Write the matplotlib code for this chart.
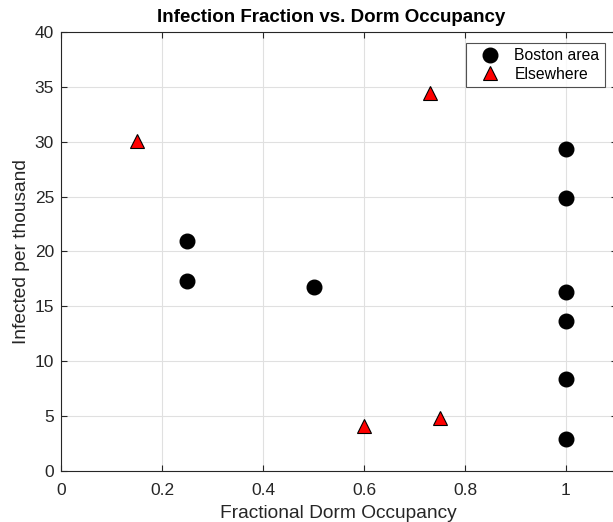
import matplotlib
matplotlib.use("Agg")
import matplotlib.pyplot as plt

plt.rcParams['font.family'] = ['Liberation Sans', 'DejaVu Sans']

# Boston area points
boston_x = [0.25, 0.25, 0.5, 1, 1, 1, 1, 1, 1]
boston_y = [21.0, 17.3, 16.8, 29.3, 24.9, 16.3, 13.7, 8.4, 2.9]

# elsewhere points
else_x = [0.15, 0.73, 0.6, 0.75]
else_y = [30.1, 34.4, 4.1, 4.8]

W, H = 613, 522
fig = plt.figure(figsize=(W / 100, H / 100), dpi=100)
# axes box runs past the right edge of the figure, like the original
ax = fig.add_axes([61 / W, 1 - 471 / H, (616.5 - 61) / W, (471 - 32) / H])

ax.plot(boston_x, boston_y, 'o', color='black', markersize=10.5,
        markeredgecolor='black', linestyle='none', label='Boston area')
ax.plot(else_x, else_y, '^', color='red', markersize=10,
        markeredgecolor='black', markeredgewidth=0.8, linestyle='none', label='Elsewhere')

ax.set_xlim(0, 1.1)
ax.set_ylim(0, 40)
ax.set_xticks([0, 0.2, 0.4, 0.6, 0.8, 1])
ax.set_xticklabels(['0', '0.2', '0.4', '0.6', '0.8', '1'])
ax.set_yticks(range(0, 41, 5))
ax.grid(True, color='#e0e0e0', linewidth=0.8)
ax.set_axisbelow(True)
ax.tick_params(direction='in', length=4, labelsize=12.5, colors='#262626',
               top=True, right=True, pad=5)
ax.tick_params(axis='x', pad=8.5)
for s in ax.spines.values():
    s.set_color('#262626')
    s.set_linewidth(0.8)

ax.set_xlabel('Fractional Dorm Occupancy', fontsize=13.8, color='#262626', labelpad=5)
ax.set_ylabel('Infected per thousand', fontsize=13.8, color='#262626', labelpad=3)
fig.text(331 / W, 1 - 18 / H, 'Infection Fraction vs. Dorm Occupancy',
         ha='center', va='center', fontsize=13.5, fontweight='bold')

leg = ax.legend(loc='upper right', bbox_to_anchor=((605 - 61) / (616.5 - 61), 1 - 11 / 439),
                fontsize=11.3, frameon=True, fancybox=False, edgecolor='#262626',
                borderpad=0.35, handletextpad=0.35, labelspacing=0.2, borderaxespad=0,
                handlelength=2.36)
leg.get_frame().set_linewidth(0.8)

fig.savefig('out.png', dpi=100)
